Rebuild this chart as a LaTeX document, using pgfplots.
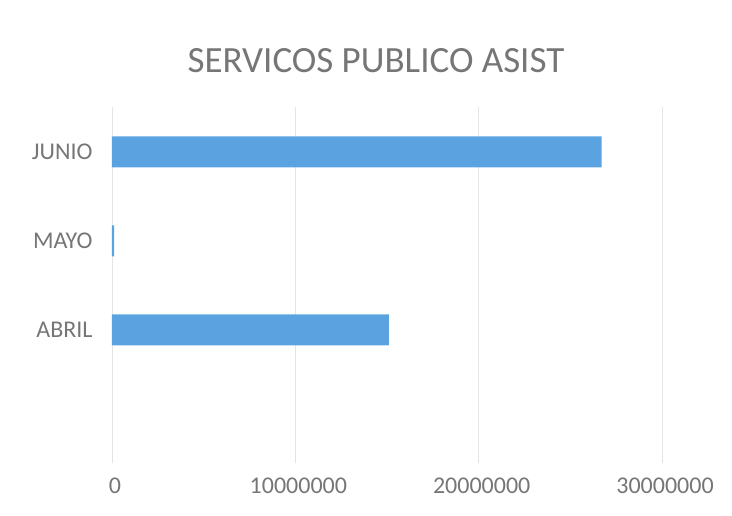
\documentclass[border=0pt]{standalone}
\usepackage{pgfplots}
\pgfplotsset{compat=1.18}
\usepackage{fontspec}
\setmainfont{Carlito}
\begin{document}
\begin{tikzpicture}[x=1pt,y=1pt]
    \definecolor{barblue}{RGB}{91,163,224}
    \definecolor{txtgray}{RGB}{118,118,118}
    \definecolor{gridgray}{RGB}{228,228,228}
    \path[use as bounding box] (0,0) rectangle (732,516);
    \node[font=\fontsize{37}{40}\selectfont, text=txtgray] at (376,455) {SERVICOS PUBLICO ASIST};
    \begin{axis}[
            at={(112pt,52.5pt)}, anchor=south west,
            scale only axis,
            width=550pt, height=356pt,
            xbar, bar width=31pt,
            xmin=0, xmax=30000000,
            ymin=-0.5, ymax=3.5,
            xtick={0,10000000,20000000,30000000},
            xticklabels={0,10000000,20000000,30000000},
            ytick={1,2,3},
            yticklabels={ABRIL,MAYO,JUNIO},
            xmajorgrids,
            major grid style={gridgray, line width=0.8pt},
            separate axis lines,
            axis x line*=bottom,
            axis y line*=left,
            x axis line style={draw=none},
            y axis line style={gridgray, line width=0.8pt},
            major tick length=0pt,
            tick style={draw=none},
            ticklabel style={font=\fontsize{24}{28}\selectfont, text=txtgray},
            xticklabel style={yshift=-11pt, xshift=3pt},
            yticklabel style={xshift=-16pt},
            scaled x ticks=false,
        ]
        % ABRIL, MAYO, JUNIO
        \addplot [fill=barblue, draw=none]
        coordinates {(15100000,1) (120000,2) (26700000,3)};
    \end{axis}
\end{tikzpicture}
\end{document}
